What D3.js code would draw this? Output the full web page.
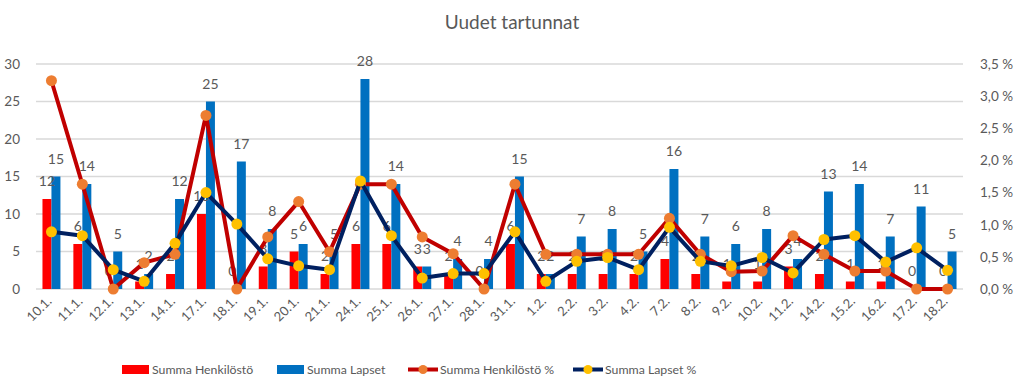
<!DOCTYPE html>
<html><head><meta charset="utf-8">
<script src="https://cdn.jsdelivr.net/npm/d3@7"></script>
<style>body{margin:0;background:#fff}svg{display:block;font-family:Lato,"Noto Sans",sans-serif}</style>
</head><body><svg id="c" width="1024" height="390"></svg>
<script>
const categories = ["10.1.","11.1.","12.1.","13.1.","14.1.","17.1.","18.1.","19.1.","20.1.","21.1.","24.1.","25.1.","26.1.","27.1.","28.1.","31.1.","1.2.","2.2.","3.2.","4.2.","7.2.","8.2.","9.2.","10.2.","11.2.","14.2.","15.2.","16.2.","17.2.","18.2."];
const henkilosto = [12,6,0,1,2,10,0,3,5,2,6,6,3,2,0,6,2,2,2,2,4,2,1,1,3,2,1,1,0,0];
const lapset = [15,14,5,2,12,25,17,8,6,5,28,14,3,4,4,15,2,7,8,5,16,7,6,8,4,13,14,7,11,5];
const henkilostoPct = [3.24,1.63,0,0.41,0.54,2.70,0,0.81,1.36,0.58,1.63,1.63,0.81,0.55,0,1.63,0.54,0.54,0.54,0.54,1.10,0.54,0.27,0.28,0.83,0.54,0.28,0.28,0,0];
const lapsetPct = [0.89,0.83,0.30,0.12,0.71,1.50,1.01,0.47,0.36,0.30,1.68,0.83,0.17,0.24,0.24,0.89,0.12,0.43,0.49,0.30,0.96,0.43,0.36,0.49,0.25,0.77,0.83,0.42,0.64,0.29];
const leftTicks = [0,5,10,15,20,25,30];
const rightTicks = [0,0.5,1,1.5,2,2.5,3,3.5];
const title = "Uudet tartunnat";
const seriesNames = ["Summa Henkilöstö","Summa Lapset","Summa Henkilöstö %","Summa Lapset %"];

const svg = d3.select("#c");
const L=36, R=963, T=64, B=289;
const x = d3.scaleBand().domain(categories).range([L,R]);
const xs = d3.scaleBand().domain(["h","l"]).range([0,x.bandwidth()]).paddingOuter(0.72);
const y = d3.scaleLinear().domain([0,30]).range([B,T]);
const y2 = d3.scaleLinear().domain([0,3.5]).range([B,T]);
const grey="#595959";

svg.append("text").attr("x",512).attr("y",29).attr("text-anchor","middle").attr("font-size",19).attr("fill",grey).text(title);

// gridlines
svg.append("g").selectAll("line").data(leftTicks).join("line")
  .attr("x1",L).attr("x2",R).attr("y1",d=>y(d)).attr("y2",d=>y(d)).attr("stroke","#d9d9d9").attr("stroke-width",1.3);

// left axis
const ga=svg.append("g").attr("transform",`translate(${L-16},0)`).call(d3.axisLeft(y).tickValues(leftTicks).tickSize(0).tickPadding(0));
ga.select(".domain").remove();
ga.selectAll("text").attr("font-size",13.5).attr("fill",grey).attr("font-family","Lato,sans-serif");
// right axis
const gr=svg.append("g").attr("transform",`translate(980,0)`).call(d3.axisRight(y2).tickValues(rightTicks).tickSize(0).tickPadding(0).tickFormat(d=>d3.format(".1f")(d).replace(".",",")+" %"));
gr.select(".domain").remove();
gr.selectAll("text").attr("font-size",13.5).attr("fill",grey).attr("font-family","Lato,sans-serif");

// x labels
svg.append("g").selectAll("text").data(categories).join("text")
  .attr("transform",d=>`translate(${x(d)+x.bandwidth()/2+1},302) rotate(-45)`)
  .attr("text-anchor","end").attr("font-size",13).attr("fill",grey).text(d=>d);

// bars
const bars=svg.append("g");
bars.selectAll(".h").data(henkilosto).join("rect").attr("class","h")
  .attr("x",(d,i)=>x(categories[i])+xs("h")).attr("width",xs.bandwidth())
  .attr("y",d=>y(d)).attr("height",d=>B-y(d)).attr("fill","#ff0000");
bars.selectAll(".l").data(lapset).join("rect").attr("class","l")
  .attr("x",(d,i)=>x(categories[i])+xs("l")).attr("width",xs.bandwidth())
  .attr("y",d=>y(d)).attr("height",d=>B-y(d)).attr("fill","#0070c0");

// bar labels
const lab=svg.append("g").attr("font-size",14).attr("fill",grey).attr("text-anchor","middle");
lab.selectAll(".hl").data(henkilosto).join("text").attr("class","hl")
  .attr("x",(d,i)=>x(categories[i])+xs("h")+xs.bandwidth()/2).attr("y",d=>y(d)-13).text(d=>d);
lab.selectAll(".ll").data(lapset).join("text").attr("class","ll")
  .attr("x",(d,i)=>x(categories[i])+xs("l")+xs.bandwidth()/2).attr("y",d=>y(d)-13).text(d=>d);

// lines
const cx=(i)=>x(categories[i])+x.bandwidth()/2;
function drawLine(vals,lc,mc){
  const g=svg.append("g");
  g.append("path").datum(vals).attr("fill","none").attr("stroke",lc).attr("stroke-width",4).attr("stroke-linejoin","round")
   .attr("d",d3.line().x((d,i)=>cx(i)).y(d=>y2(d)));
  g.selectAll("circle").data(vals).join("circle").attr("cx",(d,i)=>cx(i)).attr("cy",d=>y2(d)).attr("r",5.5).attr("fill",mc);
}
drawLine(henkilostoPct,"#c00000","#ed7d31");
drawLine(lapsetPct,"#002060","#ffc000");

// legend
const lg=svg.append("g").attr("font-size",12.3).attr("fill",grey);
const lx=[122,277,408,573];
lg.append("rect").attr("x",lx[0]).attr("y",365).attr("width",27).attr("height",9).attr("fill","#ff0000");
lg.append("rect").attr("x",lx[1]).attr("y",365).attr("width",27).attr("height",9).attr("fill","#0070c0");
[[lx[2],"#c00000","#ed7d31"],[lx[3],"#002060","#ffc000"]].forEach(([px,lc,mc])=>{
  lg.append("line").attr("x1",px).attr("x2",px+30).attr("y1",369.5).attr("y2",369.5).attr("stroke",lc).attr("stroke-width",4);
  lg.append("circle").attr("cx",px+15).attr("cy",369.5).attr("r",4.5).attr("fill",mc);
});
const tx=[152,307,440,605];
seriesNames.forEach((s,i)=>lg.append("text").attr("x",tx[i]).attr("y",374).text(s));
</script></body></html>
